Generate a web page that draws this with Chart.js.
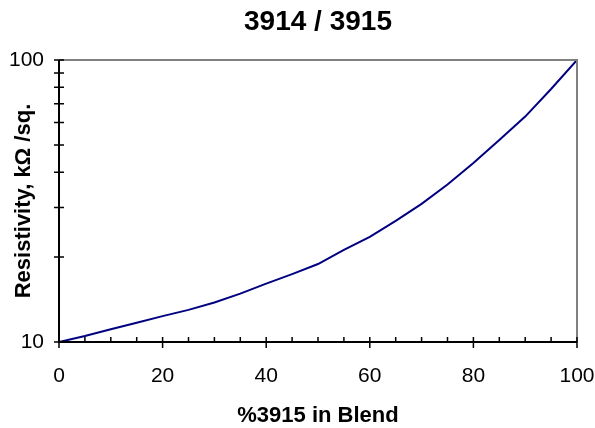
<!DOCTYPE html>
<html>
<head>
<meta charset="utf-8">
<script src="https://cdn.jsdelivr.net/npm/chart.js@4/dist/chart.umd.min.js"></script>
<style>
  html, body { margin: 0; padding: 0; background: #ffffff; }
  #wrap { width: 595px; height: 428px; }
</style>
</head>
<body>
<div id="wrap"><canvas id="c" width="595" height="428"></canvas></div>
<script>
const blendPercent = [0, 5, 10, 15, 20, 25, 30, 35, 40, 45, 50, 55, 60, 65, 70, 75, 80, 85, 90, 95, 100];
const resistivity = [10, 10.5, 11.1, 11.7, 12.35, 13.0, 13.8, 14.85, 16.1, 17.4, 18.9, 21.2, 23.6, 26.9, 30.9, 36.2, 43.1, 52.0, 63.0, 78.9, 100];
const xTickLabels = [0, 20, 40, 60, 80, 100];
const yTickLabels = [10, 100];
const yMinorTicks = [20, 30, 40, 50, 60, 70, 80, 90];

const FONT = 'Arial, "Liberation Sans", sans-serif';

const plotArea = { left: 59, right: 577, top: 60, bottom: 342 };

const tickMarks = {
  id: 'tickMarks',
  afterDraw(chart) {
    const { ctx, chartArea: a, scales: { x, y } } = chart;
    ctx.save();
    ctx.strokeStyle = '#808080';
    ctx.lineWidth = 2;
    ctx.beginPath();
    ctx.moveTo(a.left, a.top);
    ctx.lineTo(a.right, a.top);
    ctx.lineTo(a.right, a.bottom);
    ctx.stroke();
    ctx.strokeStyle = '#000000';
    ctx.lineWidth = 2;
    ctx.beginPath();
    ctx.moveTo(a.left, a.top);
    ctx.lineTo(a.left, a.bottom);
    ctx.lineTo(a.right, a.bottom);
    ctx.stroke();
    ctx.lineWidth = 1.5;
    ctx.beginPath();
    for (let v = 0; v <= 100; v += 5) {
      const px = x.getPixelForValue(v);
      ctx.moveTo(px, a.bottom - 5);
      ctx.lineTo(px, xTickLabels.includes(v) ? a.bottom + 6 : a.bottom);
    }
    for (const v of yTickLabels.concat(yMinorTicks)) {
      const py = y.getPixelForValue(v);
      ctx.moveTo(a.left - 5, py);
      ctx.lineTo(a.left + 5, py);
    }
    ctx.stroke();
    ctx.restore();
  }
};

new Chart(document.getElementById('c'), {
  type: 'line',
  data: {
    labels: blendPercent,
    datasets: [{
      data: blendPercent.map((v, i) => ({ x: v, y: resistivity[i] })),
      borderColor: '#000080',
      borderWidth: 2,
      pointRadius: 0,
      tension: 0,
      fill: false
    }]
  },
  options: {
    responsive: false,
    animation: false,
    devicePixelRatio: 1,
    layout: { padding: { left: 0, right: 595 - plotArea.right, top: 0, bottom: 0 } },
    plugins: {
      legend: { display: false },
      tooltip: { enabled: false },
      title: {
        display: true,
        fullSize: false,
        text: '3914 / 3915',
        color: '#000000',
        font: { family: FONT, size: 28, weight: 'bold', lineHeight: 1 },
        padding: { top: 8, bottom: plotArea.top - 8 - 28 }
      }
    },
    scales: {
      x: {
        type: 'linear',
        min: 0,
        max: 100,
        afterFit(scale) {
          scale.height = 428 - plotArea.bottom;
          scale.paddingLeft = 0; scale.paddingRight = 0;
        },
        grid: { display: false, drawTicks: false },
        border: { display: false },
        ticks: {
          stepSize: 20,
          color: '#000000',
          padding: 22,
          maxRotation: 0,
          font: { family: FONT, size: 21, lineHeight: 1.2 },
          callback: (v) => xTickLabels.includes(v) ? String(v) : ''
        },
        title: {
          display: true,
          text: '%3915 in Blend',
          color: '#000000',
          font: { family: FONT, size: 22, weight: 'bold', lineHeight: 1 },
          padding: { top: 0, bottom: 1 }
        }
      },
      y: {
        type: 'logarithmic',
        min: 10,
        max: 100,
        afterFit(scale) {
          scale.width = plotArea.left;
          scale.paddingTop = 0; scale.paddingBottom = 0;
        },
        afterBuildTicks(scale) { scale.ticks = yTickLabels.map(v => ({ value: v })); },
        grid: { display: false, drawTicks: false },
        border: { display: false },
        ticks: {
          color: '#000000',
          padding: 15,
          autoSkip: false,
          font: { family: FONT, size: 21 },
          callback: (v) => String(v)
        },
        title: {
          display: true,
          text: 'Resistivity, kΩ /sq.',
          color: '#000000',
          font: { family: FONT, size: 22, weight: 'bold', lineHeight: 1 },
          padding: { top: 13, bottom: 0 }
        }
      }
    }
  },
  plugins: [tickMarks]
});
</script>
</body>
</html>
